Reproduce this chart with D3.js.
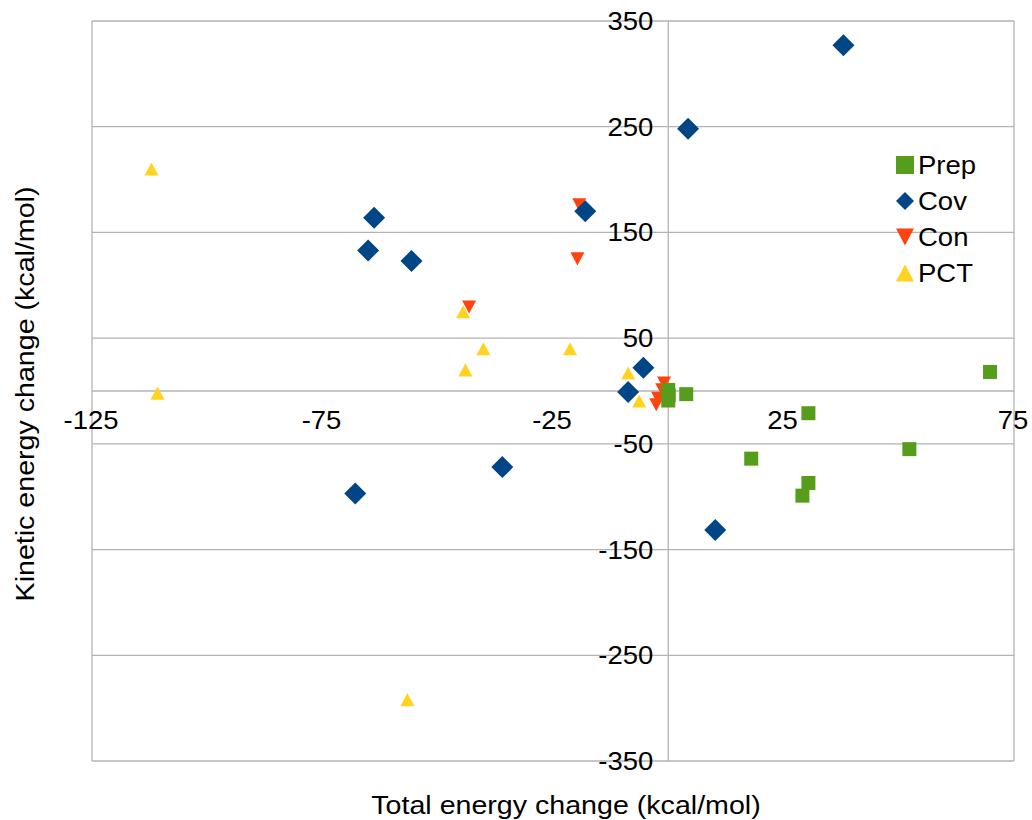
<!DOCTYPE html>
<html><head><meta charset="utf-8">
<script src="https://cdn.jsdelivr.net/npm/d3@7"></script>
<style>body{margin:0;background:#fff}text{font-family:"Liberation Sans",Arial,sans-serif;fill:#000}</style>
</head><body><svg id="c" width="1032" height="820"></svg>
<script>
const prepX = [69.8, 52.3, 30.4, 18.0, 30.4, 29.1, 3.9, 0.0, 0.0, 0.1];
const prepY = [18, -55, -21, -64, -87, -99, -3, 1, -9, -4];
const covX = [38.0, 4.3, -18.0, -63.8, -65.1, -55.7, -5.4, -8.7, -36.0, -67.9, 10.2];
const covY = [327, 248, 170, 164, 133, 123, 22, -1, -72, -97, -131.5];
const conX = [-19.3, -19.7, -43.2, -0.9, -1.3, -2.2, -2.6];
const conY = [176, 125, 79.5, 7.6, 1, -7, -13];
const pctX = [-112.1, -110.8, -44.5, -40.1, -44.0, -21.3, -8.7, -6.3, -56.6];
const pctY = [210, -2, 75, 40, 20, 40, 17, -9.5, -292];
const seriesNames = ["Prep", "Cov", "Con", "PCT"];
const xTicks = [-125, -75, -25, 25, 75];
const yTicks = [350, 250, 150, 50, -50, -150, -250, -350];
const xTitle = "Total energy change (kcal/mol)";
const yTitle = "Kinetic energy change (kcal/mol)";

const colors = {Prep:"#579d1c", Cov:"#004586", Con:"#ff420e", PCT:"#ffd320"};
const series = [
  {name:"Prep", xs:prepX, ys:prepY, shape:"square"},
  {name:"Cov", xs:covX, ys:covY, shape:"diamond"},
  {name:"Con", xs:conX, ys:conY, shape:"down"},
  {name:"PCT", xs:pctX, ys:pctY, shape:"up"}
];

const svg = d3.select("#c");
const L = 92, R = 1014, T = 21, B = 761;
const x = d3.scaleLinear().domain([-125, 75]).range([L, R]);
const y = d3.scaleLinear().domain([-350, 350]).range([B, T]);
const grid = "#b3b3b3";
const SX = 1.1, FS = 25, TFS = 26;

svg.append("g").selectAll("line").data(yTicks.concat([0])).join("line")
  .attr("x1", L).attr("x2", R).attr("y1", d => y(d)).attr("y2", d => y(d))
  .attr("stroke", grid).attr("stroke-width", 1.3);
svg.append("g").selectAll("line").data([-125, 0, 75]).join("line")
  .attr("x1", d => x(d)).attr("x2", d => x(d)).attr("y1", T).attr("y2", B)
  .attr("stroke", grid).attr("stroke-width", 1.3);

function sym(shape, s) {
  if (shape === "square") return `M${-s/2},${-s/2}h${s}v${s}h${-s}Z`;
  if (shape === "diamond") return `M0,${-s/2}L${s/2},0L0,${s/2}L${-s/2},0Z`;
  if (shape === "up") return `M0,${-s*0.47}L${s/2},${s*0.47}L${-s/2},${s*0.47}Z`;
  return `M0,${s*0.47}L${s/2},${-s*0.47}L${-s/2},${-s*0.47}Z`;
}
const size = {square:14, diamond:22, up:14, down:14};

series.slice().reverse().forEach(se => {
  const pts = se.xs.map((v, i) => [v, se.ys[i]]);
  svg.append("g").selectAll("path").data(pts).join("path")
    .attr("transform", d => `translate(${x(d[0])},${y(d[1])})`)
    .attr("d", sym(se.shape, size[se.shape]))
    .attr("fill", colors[se.name]);
});

svg.append("g").selectAll("text").data(xTicks).join("text")
  .attr("transform", d => `translate(${x(d) - 1},${y(0) + 38}) scale(${SX},1)`)
  .attr("text-anchor", "middle").attr("font-size", FS).text(d => d);
svg.append("g").selectAll("text").data(yTicks).join("text")
  .attr("transform", d => `translate(${x(0) - 15},${y(d) + 9}) scale(${SX},1)`)
  .attr("text-anchor", "end").attr("font-size", FS).text(d => d);

svg.append("text").attr("transform", `translate(566,814) scale(${SX},1)`)
  .attr("text-anchor", "middle").attr("font-size", TFS).text(xTitle);
svg.append("text").attr("transform", `translate(34,394) rotate(-90) scale(${SX},1)`)
  .attr("text-anchor", "middle").attr("font-size", TFS).text(yTitle);

const lg = svg.append("g");
series.forEach((se, i) => {
  const cy = 165 + i * 36;
  lg.append("path").attr("transform", `translate(905,${cy})`)
    .attr("d", sym(se.shape, 18)).attr("fill", colors[se.name]);
  lg.append("text").attr("transform", `translate(918,${cy + 9}) scale(${SX},1)`)
    .attr("font-size", FS).text(se.name);
});
</script></body></html>
